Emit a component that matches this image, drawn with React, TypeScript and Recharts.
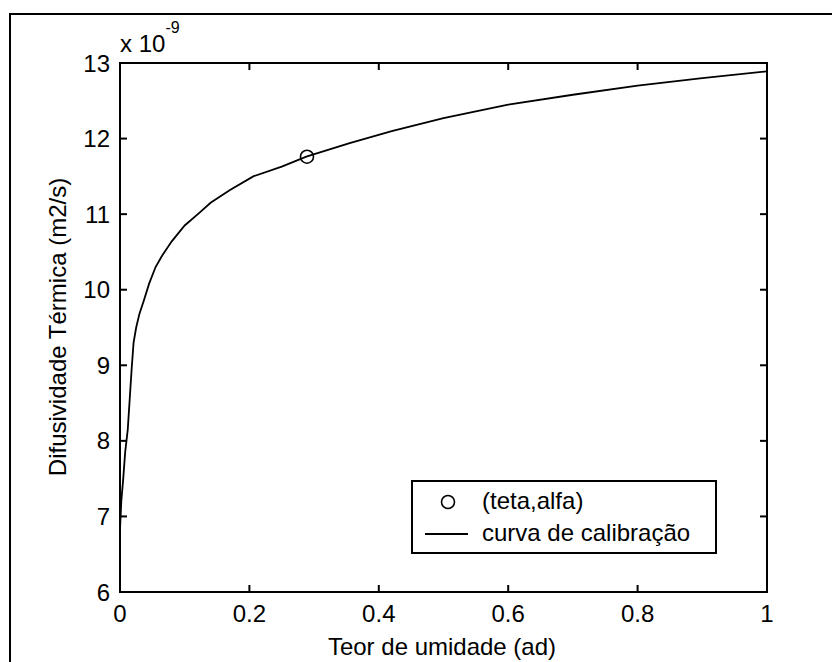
import React from 'react';
import { ComposedChart, Line, Scatter, XAxis, YAxis, ReferenceLine, ReferenceArea, Legend, Customized } from 'recharts';

const curveX = [0, 0.002, 0.005, 0.008, 0.012, 0.015, 0.018, 0.021, 0.025, 0.03, 0.037, 0.045, 0.055, 0.065, 0.08, 0.1, 0.123, 0.14, 0.17, 0.206, 0.25, 0.288, 0.355, 0.42, 0.5, 0.6, 0.7, 0.8, 0.9, 1.0];
const curveY = [6.82, 7.2, 7.5, 7.85, 8.15, 8.55, 8.95, 9.3, 9.5, 9.68, 9.86, 10.08, 10.3, 10.45, 10.64, 10.85, 11.02, 11.15, 11.32, 11.5, 11.63, 11.76, 11.94, 12.1, 12.27, 12.45, 12.58, 12.7, 12.8, 12.89];
const pointX = [0.289];
const pointY = [11.76];
const xTicks = [0, 0.2, 0.4, 0.6, 0.8, 1];
const yTicks = [6, 7, 8, 9, 10, 11, 12, 13];

const curveData = curveX.map((x, i) => ({ x, y: curveY[i] }));
const pointData = pointX.map((x, i) => ({ x, y: pointY[i] }));

const FONT = '"Liberation Sans", Arial, sans-serif';
const TX = 7 / 647;
const TY = 7 / 75.5;

const CircleShape = (props: any) => (
  <circle cx={props.cx} cy={props.cy} r={6.5} fill="none" stroke="#000" strokeWidth={1.6} />
);

const LegendBox = () => (
  <div style={{ width: 302, height: 70, border: '2px solid #000', background: '#fff', position: 'relative', fontFamily: FONT, fontSize: 24, color: '#000' }}>
    <svg width={70} height={70} style={{ position: 'absolute', left: 0, top: 0 }}>
      <circle cx={35} cy={20} r={6.5} fill="none" stroke="#000" strokeWidth={1.6} />
      <line x1={12} x2={55} y1={52} y2={52} stroke="#000" strokeWidth={2} />
    </svg>
    <div style={{ position: 'absolute', left: 69, top: 5, lineHeight: '28px', whiteSpace: 'nowrap' }}>(teta,alfa)</div>
    <div style={{ position: 'absolute', left: 69, top: 37, lineHeight: '28px', whiteSpace: 'nowrap' }}>curva de calibração</div>
  </div>
);

const Labels = () => (
  <g fontFamily={FONT} fill="#000">
    <text x={120} y={52} fontSize={24}>x 10<tspan dy={-19} fontSize={16}>-9</tspan></text>
    <text x={442} y={655} fontSize={24} textAnchor="middle">Teor de umidade (ad)</text>
    <text transform="translate(66,327) rotate(-90)" x={0} y={0} fontSize={24} textAnchor="middle">Difusividade Térmica (m2/s)</text>
  </g>
);

export default function App() {
  return (
    <div style={{ position: 'absolute', left: 0, top: 0, width: 832, height: 662, overflow: 'hidden', background: '#fff' }}>
      <div style={{ position: 'absolute', left: 9, top: 13, width: 900, height: 900, border: '2px solid #000' }} />
      <div style={{ position: 'absolute', left: 0, top: 0 }}>
        <ComposedChart width={832} height={662} margin={{ top: 63, right: 65, bottom: 40, left: 0 }}>
          <XAxis
            dataKey="x"
            type="number"
            domain={[0, 1]}
            ticks={xTicks}
            axisLine={false}
            tickLine={false}
            tickSize={0}
            tickMargin={13}
            height={30}
            allowDataOverflow
            tick={{ fill: '#000', fontSize: 24, fontFamily: FONT }}
            tickFormatter={(v: number) => String(v)}
          />
          <YAxis
            dataKey="y"
            type="number"
            domain={[6, 13]}
            ticks={yTicks}
            axisLine={false}
            tickLine={false}
            tickSize={0}
            tickMargin={10}
            width={120}
            allowDataOverflow
            tick={{ fill: '#000', fontSize: 24, fontFamily: FONT }}
          />
          <ReferenceArea x1={0} x2={1} y1={6} y2={13} fill="none" stroke="#000" strokeWidth={2} ifOverflow="visible" />
          {xTicks.map((t) => (
            <ReferenceLine key={'b' + t} segment={[{ x: t, y: 6 }, { x: t, y: 6 + TY }]} stroke="#000" strokeWidth={2} />
          ))}
          {xTicks.map((t) => (
            <ReferenceLine key={'t' + t} segment={[{ x: t, y: 13 }, { x: t, y: 13 - TY }]} stroke="#000" strokeWidth={2} />
          ))}
          {yTicks.map((t) => (
            <ReferenceLine key={'l' + t} segment={[{ x: 0, y: t }, { x: TX, y: t }]} stroke="#000" strokeWidth={2} />
          ))}
          {yTicks.map((t) => (
            <ReferenceLine key={'r' + t} segment={[{ x: 1, y: t }, { x: 1 - TX, y: t }]} stroke="#000" strokeWidth={2} />
          ))}
          <Line data={curveData} dataKey="y" type="linear" stroke="#000" strokeWidth={1.8} dot={false} isAnimationActive={false} legendType="line" name="curva de calibração" />
          <Scatter data={pointData} dataKey="y" shape={<CircleShape />} isAnimationActive={false} name="(teta,alfa)" />
          <Legend
            layout="vertical"
            align="center"
            verticalAlign="middle"
            content={<LegendBox />}
            wrapperStyle={{ position: 'absolute', left: 411, top: 480, width: 306, height: 74 }}
          />
          <Customized component={<Labels />} />
        </ComposedChart>
      </div>
    </div>
  );
}
